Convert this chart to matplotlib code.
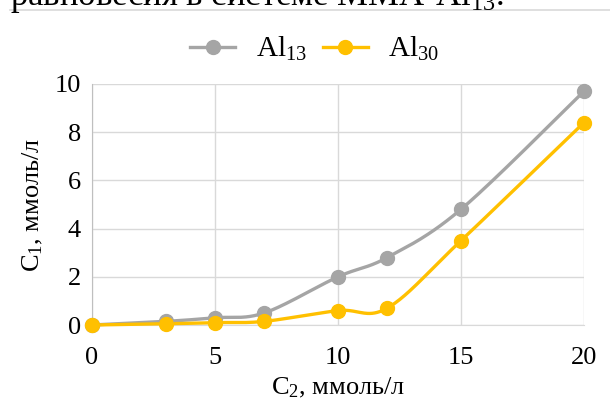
import numpy as np
import matplotlib
matplotlib.use("Agg")
import matplotlib.pyplot as plt
from matplotlib.lines import Line2D

plt.rcParams['font.family'] = ['Liberation Serif', 'DejaVu Serif']
plt.rcParams['mathtext.fontset'] = 'custom'
plt.rcParams['mathtext.rm'] = 'Liberation Serif'
plt.rcParams['mathtext.it'] = 'Liberation Serif'

# Concentrations
c2 = [0, 3, 5, 7, 10, 12, 15, 20]
al13 = [0, 0.15, 0.3, 0.5, 2.0, 2.8, 4.8, 9.7]
al30 = [0, 0.05, 0.1, 0.15, 0.6, 0.7, 3.5, 8.4]

series_names = ['Al$_{13}$', 'Al$_{30}$']
series_colors = ['#A5A5A5', '#FFC000']

x_ticks = [0, 5, 10, 15, 20]
y_ticks = [0, 2, 4, 6, 8, 10]


def smooth(xs, ys, n=40):
    """Catmull-Rom style Bezier smoothing through all points."""
    p = np.column_stack([xs, ys]).astype(float)
    out = [p[0]]
    for i in range(len(p) - 1):
        p0 = p[i - 1] if i > 0 else p[i]
        p1, p2 = p[i], p[i + 1]
        p3 = p[i + 2] if i + 2 < len(p) else p[i + 1]
        c1 = p1 + (p2 - p0) / 6
        c2_ = p2 - (p3 - p1) / 6
        t = np.linspace(0, 1, n)[1:, None]
        seg = ((1 - t) ** 3) * p1 + 3 * ((1 - t) ** 2) * t * c1 + 3 * (1 - t) * t ** 2 * c2_ + t ** 3 * p2
        out.extend(seg)
    out = np.array(out)
    return out[:, 0], out[:, 1]


fig = plt.figure(figsize=(6.1, 4.0), dpi=100)
ax = fig.add_axes([92 / 610, 1 - 325 / 400, (584 - 92) / 610, (325 - 84) / 400])

for ys, col in zip([al13, al30], series_colors):
    sx, sy = smooth(c2, ys)
    ax.plot(sx, sy, color=col, lw=2.4, solid_capstyle='round', zorder=3, clip_on=False)
    ax.plot(c2, ys, 'o', color=col, ms=10, zorder=4, clip_on=False)

ax.set_xlim(0, 20)
ax.set_ylim(0, 10)
ax.set_xticks(x_ticks)
ax.set_yticks(y_ticks)
ax.grid(True, color='#D9D9D9', lw=1.0)
ax.set_axisbelow(True)
for s in ax.spines.values():
    s.set_visible(False)
ax.spines['left'].set_visible(True)
ax.spines['left'].set_color('#BFBFBF')
ax.spines['bottom'].set_visible(True)
ax.spines['bottom'].set_color('#D9D9D9')
ax.tick_params(length=0, labelsize=19, colors='black')
ax.tick_params(axis='x', pad=16)
ax.tick_params(axis='y', pad=8)

ax.set_xlabel('C$_2$, ммоль/л', fontsize=19, labelpad=5)
ax.set_ylabel('C$_1$, ммоль/л', fontsize=19, labelpad=7)

handles = [Line2D([], [], color=c, lw=2.4, marker='o', ms=10) for c in series_colors]
fig.legend(handles, series_names, loc='center', bbox_to_anchor=(0.516, 1 - 49 / 400),
           ncol=2, frameon=False, fontsize=21, handlelength=1.55, columnspacing=0.55,
           handletextpad=0.7)

# Trailing caption line above the chart
fig.text(10 / 610, 1 - 5 / 400, 'равновесия в системе ММА-Al$_{13}$.', fontsize=25,
         va='baseline', ha='left')
fig.add_artist(Line2D([10 / 610, 1], [1 - 9.5 / 400, 1 - 9.5 / 400], color='#D9D9D9', lw=1.2))

fig.savefig('out.png', dpi=100)
